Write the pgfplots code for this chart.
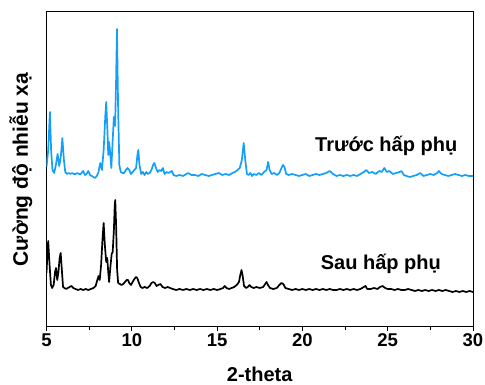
\documentclass[border=0pt]{standalone}
\usepackage{pgfplots}
\pgfplotsset{compat=1.18}
\usepackage{fontspec}
\setmainfont{Liberation Sans}
\definecolor{xrdblue}{RGB}{20,160,250}
\begin{document}
\begin{tikzpicture}
\begin{axis}[
  at={(0,0)}, anchor=south west,
  scale only axis, width=426.5pt, height=315pt,
  xmin=5, xmax=30, ymin=73, ymax=388,
  xtick={5,10,15,20,25,30}, xticklabels={5,10,15,20,25,30},
  minor x tick num=1,
  ytick=\empty,
  xtick pos=bottom, tick align=outside,
  major tick length=4.5pt, minor tick length=2.7pt,
  axis line style={line width=1pt},
  every tick/.style={black, line width=1pt},
  xticklabel style={font=\fontsize{18.5}{20}\selectfont\bfseries, inner sep=2pt},
  every axis x label/.style={at={(axis description cs:0.5,-0.1730)}, anchor=base, inner sep=0pt, font=\fontsize{20}{22}\selectfont\bfseries},
  every axis y label/.style={at={(axis description cs:-0.0434,0.5)}, rotate=90, anchor=base, font=\fontsize{21}{23}\selectfont\bfseries},
  xlabel={2-theta},
  ylabel={Cường độ nhiễu xạ},
  clip=true,
]
\addplot[xrdblue, line width=1.7pt, line join=round] coordinates {
(5.0,233)(5.1,250)(5.2,288)(5.27,250)(5.35,230)(5.45,227)(5.55,235)(5.65,246)(5.75,234)(5.85,245)(5.93,262)(6.02,240)(6.1,228)(6.2,226)(6.3,227)(6.4,226)(6.5,227)(6.6,226)(6.7,226)(6.8,227)(6.9,226)(7.0,226)(7.1,228)(7.15,229)(7.25,225)(7.35,226)(7.45,229)(7.55,225)(7.65,224)(7.75,223)(7.85,222)(7.95,224)(8.05,228)(8.15,237)(8.25,230)(8.35,250)(8.45,285)(8.5,298)(8.57,270)(8.62,245)(8.67,258)(8.72,250)(8.8,232)(8.88,260)(8.95,283)(9.02,274)(9.08,320)(9.13,371)(9.2,290)(9.27,235)(9.35,228)(9.45,227)(9.55,227)(9.65,230)(9.75,232)(9.85,230)(9.95,226)(10.05,228)(10.15,230)(10.25,232)(10.33,245)(10.38,250)(10.45,235)(10.55,226)(10.65,228)(10.75,225)(10.85,228)(10.95,226)(11.05,227)(11.15,230)(11.25,235)(11.32,237)(11.42,232)(11.52,228)(11.62,230)(11.72,229)(11.82,232)(11.92,226)(12.05,228)(12.15,227)(12.25,228)(12.35,229)(12.45,225)(12.6,224)(12.8,225)(13.0,224)(13.2,226)(13.3,227)(13.5,225)(13.7,225)(13.9,224)(14.1,226)(14.3,225)(14.5,224)(14.7,225)(14.9,226)(15.1,227)(15.3,225)(15.5,226)(15.7,225)(15.9,227)(16.05,228)(16.2,230)(16.33,232)(16.45,240)(16.56,257)(16.65,240)(16.75,226)(16.85,225)(16.95,227)(17.05,224)(17.15,226)(17.3,225)(17.45,227)(17.6,225)(17.75,228)(17.9,230)(17.99,238)(18.08,230)(18.2,226)(18.35,227)(18.5,225)(18.65,227)(18.8,233)(18.87,235)(18.95,233)(19.05,226)(19.2,225)(19.4,226)(19.6,225)(19.8,224)(20.0,225)(20.2,226)(20.4,224)(20.6,225)(20.8,226)(21.0,225)(21.2,226)(21.4,227)(21.6,229)(21.8,226)(22.0,224)(22.2,225)(22.4,224)(22.6,225)(22.8,224)(23.0,225)(23.2,224)(23.4,226)(23.6,228)(23.75,230)(23.9,227)(24.1,228)(24.3,226)(24.5,229)(24.65,228)(24.8,232)(24.95,228)(25.1,229)(25.3,226)(25.5,227)(25.7,228)(25.8,229)(25.95,225)(26.1,224)(26.3,223)(26.5,224)(26.7,225)(26.9,227)(27.1,224)(27.3,225)(27.5,226)(27.7,225)(27.9,227)(28.0,229)(28.15,226)(28.35,225)(28.55,224)(28.75,225)(28.95,226)(29.15,225)(29.35,224)(29.55,225)(29.75,224)(30.0,224)
};
\addplot[black, line width=1.7pt, line join=round] coordinates {
(5.0,127)(5.05,145)(5.1,159)(5.18,135)(5.26,115)(5.33,112)(5.42,115)(5.5,128)(5.56,132)(5.63,120)(5.7,128)(5.77,142)(5.83,147)(5.9,130)(5.97,113)(6.05,112)(6.15,111)(6.25,112)(6.35,113)(6.47,114)(6.57,112)(6.7,111)(6.85,110)(7.0,111)(7.15,110)(7.3,111)(7.45,110)(7.6,111)(7.75,112)(7.88,114)(7.98,120)(8.05,124)(8.12,120)(8.2,135)(8.28,160)(8.35,177)(8.42,155)(8.5,138)(8.56,142)(8.62,128)(8.67,118)(8.74,132)(8.82,146)(8.88,148)(8.95,170)(9.0,195)(9.03,200)(9.08,175)(9.14,130)(9.2,117)(9.3,116)(9.4,115)(9.5,116)(9.6,118)(9.7,120)(9.78,120)(9.85,117)(9.95,115)(10.05,118)(10.15,121)(10.25,123)(10.32,122)(10.42,117)(10.52,113)(10.62,112)(10.75,113)(10.9,112)(11.05,114)(11.15,117)(11.25,118)(11.35,117)(11.45,114)(11.55,115)(11.68,116)(11.8,113)(11.95,112)(12.1,113)(12.25,112)(12.4,111)(12.6,110)(12.8,111)(13.0,110)(13.2,111)(13.4,110)(13.6,111)(13.8,110)(14.0,111)(14.2,110)(14.4,111)(14.6,110)(14.8,111)(15.0,110)(15.2,111)(15.35,112)(15.45,114)(15.55,112)(15.7,111)(15.85,112)(16.0,113)(16.15,115)(16.28,118)(16.36,125)(16.43,130)(16.5,124)(16.58,114)(16.7,112)(16.8,113)(16.9,115)(17.0,113)(17.15,112)(17.3,113)(17.5,112)(17.7,113)(17.82,116)(17.9,118)(17.98,115)(18.1,112)(18.3,111)(18.5,112)(18.65,115)(18.77,117)(18.88,116)(19.0,112)(19.2,111)(19.4,110)(19.6,111)(19.8,110)(20.0,111)(20.2,110)(20.4,111)(20.6,110)(20.8,111)(21.0,110)(21.2,111)(21.4,110)(21.6,111)(21.8,110)(22.0,110)(22.2,111)(22.4,110)(22.6,111)(22.8,110)(23.0,111)(23.2,110)(23.4,111)(23.6,113)(23.7,114)(23.8,111)(24.0,111)(24.2,112)(24.4,111)(24.55,113)(24.7,114)(24.85,112)(25.0,111)(25.2,111)(25.4,110)(25.6,111)(25.8,110)(26.0,110)(26.2,111)(26.4,110)(26.6,109)(26.8,110)(27.0,109)(27.2,110)(27.4,109)(27.6,110)(27.8,109)(28.0,110)(28.2,109)(28.4,110)(28.6,109)(28.8,108)(29.0,109)(29.2,108)(29.4,109)(29.6,108)(29.8,109)(30.0,108)
};
\node[anchor=base west, inner sep=0pt, font=\fontsize{20}{22}\selectfont\bfseries] at (axis cs:20.74,248.3) {Trước hấp phụ};
\node[anchor=base west, inner sep=0pt, font=\fontsize{20}{22}\selectfont\bfseries] at (axis cs:21.07,130) {Sau hấp phụ};
\end{axis}
\pgfresetboundingbox
\path (-46.5pt,-58pt) rectangle (438.5pt,327pt);
\end{tikzpicture}
\end{document}
